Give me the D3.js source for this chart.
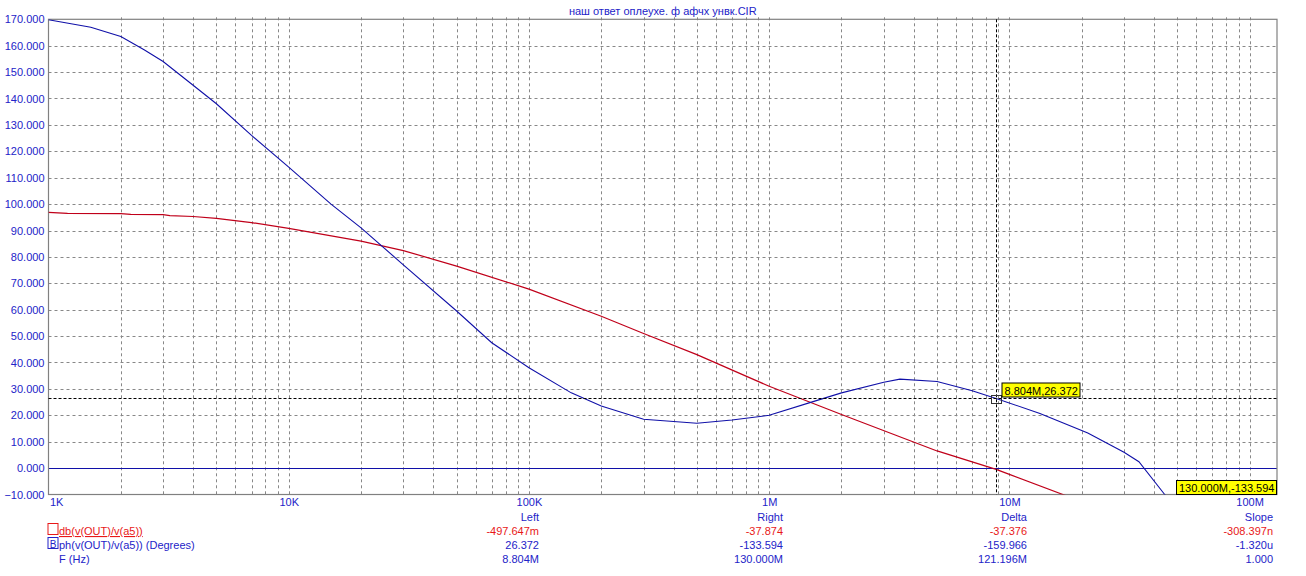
<!DOCTYPE html>
<html><head><meta charset="utf-8">
<script src="https://cdn.jsdelivr.net/npm/d3@7"></script>
<style>
html,body{margin:0;padding:0;background:#fff;}
svg{display:block;font-family:"Liberation Sans",Arial,sans-serif;font-size:11px;}
</style></head>
<body><svg id="c" width="1306" height="576"></svg>
<script>
// ---- data ----
const title = "наш ответ оплеухе. ф афчх унвк.CIR";
const magFreq = [1e3,1.2e3,2e3,2.2e3,3e3,3.2e3,4e3,5e3,7e3,1e4,2e4,3e4,5e4,1e5,2e5,3e5,5e5,1e6,2e6,5e6,8.804e6,1e7,1.67e7,2e7];
const magDb   = [96.9,96.5,96.4,96.1,96.0,95.6,95.3,94.6,93.0,90.8,86.0,82.4,76.5,67.8,57.5,51.0,43.0,31.0,20.3,6.5,-0.5,-2.4,-10,-12.8];
const phFreq  = [1e3,1.5e3,2e3,2.5e3,3e3,4e3,5e3,7e3,1e4,1.5e4,2e4,3e4,5e4,7e4,1e5,1.5e5,2e5,3e5,5e5,7e5,1e6,1.5e6,2e6,3e6,3.5e6,5e6,7e6,8.804e6,1.34e7,2.12e7,3.0e7,3.46e7,4.43e7,5e7];
const phDeg   = [169.8,167.0,163.5,158.5,154.0,145.0,138.0,126.0,114.0,100.0,91.0,77.0,59.5,47.5,38.0,28.5,23.5,18.5,17.0,18.2,20.0,25.0,28.5,32.5,33.7,32.8,29.3,26.372,20.7,13.3,6.0,2.4,-10,-15];
const yTicks  = [170,160,150,140,130,120,110,100,90,80,70,60,50,40,30,20,10,0,-10];
const xTickVals = [1e3,1e4,1e5,1e6,1e7,1e8];
const xTickLabels = ["1K","10K","100K","1M","10M","100M"];
const cursorA = {f:8.804e6, v:26.372, label:"8.804M,26.372"};
const cursorB = {f:130e6, v:-133.594, label:"130.000M,-133.594"};
const tableHeads = ["Left","Right","Delta","Slope"];
const tableMag   = ["-497.647m","-37.874","-37.376","-308.397n"];
const tablePh    = ["26.372","-133.594","-159.966","-1.320u"];
const tableF     = ["8.804M","130.000M","121.196M","1.000"];
const legendNames = ["db(v(OUT)/v(a5))","ph(v(OUT)/v(a5)) (Degrees)","F (Hz)"];

// ---- layout ----
const L=48.5, R=1277, T=19.3, B=494.5;
const blueTxt="#2323c8", redTxt="#e81818", redLine="#c0001a", blueLine="#1010a8", grid="#888";
const svg=d3.select("#c");
const x=d3.scaleLog().domain([1e3,1.3e8]).range([L,R]);
const y=d3.scaleLinear().domain([-10,170]).range([B,T]);

svg.append("defs").append("clipPath").attr("id","clip")
  .append("rect").attr("x",L).attr("y",T).attr("width",R-L).attr("height",B-T);

// title
svg.append("text").attr("x",(L+R)/2).attr("y",15).attr("text-anchor","middle")
  .attr("fill",blueTxt).text(title);

// vertical grid
const vg=[];
for(let d=1e3; d<1.3e8; d*=10){ for(let k=1;k<=9;k++){ const f=d*k; if(f>1e3 && f<1.3e8) vg.push(f);} }
svg.append("g").selectAll("line").data(vg).join("line")
  .attr("x1",d=>Math.round(x(d))+0.5).attr("x2",d=>Math.round(x(d))+0.5)
  .attr("y1",T-2).attr("y2",B).attr("stroke",grid).attr("stroke-dasharray","3,3").attr("stroke-width",1);
// horizontal grid
svg.append("g").selectAll("line").data(yTicks.filter(v=>v<170&&v>-10&&v!==0)).join("line")
  .attr("x1",L).attr("x2",R).attr("y1",d=>Math.round(y(d))+0.5).attr("y2",d=>Math.round(y(d))+0.5)
  .attr("stroke",grid).attr("stroke-dasharray","3,3");
// zero line
svg.append("line").attr("x1",L).attr("x2",R).attr("y1",Math.round(y(0))+0.5).attr("y2",Math.round(y(0))+0.5)
  .attr("stroke",blueLine).attr("stroke-width",1.2);
// frame
svg.append("rect").attr("x",L).attr("y",T).attr("width",R-L).attr("height",B-T)
  .attr("fill","none").attr("stroke","#808080").attr("stroke-width",1.2);

// y axis labels
const yAxis=d3.axisLeft(y).tickValues(yTicks).tickFormat(d3.format(".3f")).tickSize(0).tickPadding(4);
const ga=svg.append("g").attr("transform",`translate(${L},0)`).call(yAxis);
ga.select(".domain").remove();
ga.selectAll("text").attr("fill",blueTxt).attr("font-size","11px").attr("font-family","Liberation Sans,Arial,sans-serif");

// x axis labels
const xAxis=d3.axisBottom(x).tickValues(xTickVals).tickFormat((d,i)=>xTickLabels[i]).tickSize(0).tickPadding(4);
const gx=svg.append("g").attr("transform",`translate(0,${B})`).call(xAxis);
gx.select(".domain").remove();
gx.selectAll("text").attr("fill",blueTxt).attr("font-size","11px").attr("font-family","Liberation Sans,Arial,sans-serif")
  .attr("text-anchor",(d,i)=>i===0?"start":"middle").attr("dx",(d,i)=>i===0?1:0);

// curves
const line=d3.line().x(d=>x(d[0])).y(d=>y(d[1]));
const cg=svg.append("g").attr("clip-path","url(#clip)");
cg.append("path").datum(magFreq.map((f,i)=>[f,magDb[i]])).attr("d",line)
  .attr("fill","none").attr("stroke",redLine).attr("stroke-width",1.2);
cg.append("path").datum(phFreq.map((f,i)=>[f,phDeg[i]])).attr("d",line)
  .attr("fill","none").attr("stroke",blueLine).attr("stroke-width",1.1);

// cursor
const cx=Math.round(x(cursorA.f))+0.5, cy=Math.round(y(cursorA.v))+0.5;
svg.append("line").attr("x1",cx).attr("x2",cx).attr("y1",T).attr("y2",B)
  .attr("stroke","#000").attr("stroke-dasharray","3,2");
svg.append("line").attr("x1",L).attr("x2",R).attr("y1",cy).attr("y2",cy)
  .attr("stroke","#000").attr("stroke-dasharray","3,2");
svg.append("rect").attr("x",cx-5).attr("y",cy-3).attr("width",10).attr("height",8)
  .attr("fill","none").attr("stroke","#333");
function measure(txt){
  const t=svg.append("text").attr("font-size","11px").text(txt);
  const w=t.node().getComputedTextLength(); t.remove(); return w;
}
function tag(x0,y0,txt){
  const w=measure(txt);
  const g=svg.append("g");
  g.append("rect").attr("x",x0+0.5).attr("y",y0+0.5).attr("width",Math.round(w+5)).attr("height",14)
    .attr("fill","#ffff00").attr("stroke","#000");
  g.append("text").attr("x",x0+3).attr("y",y0+12).attr("fill","#000").attr("font-size","11px").text(txt);
}
tag(cx+5,cy-16,cursorA.label);
// clamped label for cursor B (off-scale) at bottom-right
tag(Math.round(R-measure(cursorB.label)-6),Math.round(B-15),cursorB.label);

// table
const colX=[539,783,1027,1273];
const rowsY=[521,535,549,563];
tableHeads.forEach((h,i)=>{
  svg.append("text").attr("x",colX[i]).attr("y",rowsY[0]).attr("text-anchor","end").attr("fill",blueTxt).text(h);
  svg.append("text").attr("x",colX[i]).attr("y",rowsY[1]).attr("text-anchor","end").attr("fill",redTxt).text(tableMag[i]);
  svg.append("text").attr("x",colX[i]).attr("y",rowsY[2]).attr("text-anchor","end").attr("fill",blueTxt).text(tablePh[i]);
  svg.append("text").attr("x",colX[i]).attr("y",rowsY[3]).attr("text-anchor","end").attr("fill",blueTxt).text(tableF[i]);
});

// legend
svg.append("rect").attr("x",48).attr("y",523.5).attr("width",10).attr("height",11).attr("fill","none").attr("stroke",redTxt);
svg.append("text").attr("x",59).attr("y",rowsY[1]).attr("fill",redTxt).attr("text-decoration","underline").text(legendNames[0]);
svg.append("rect").attr("x",48).attr("y",537.5).attr("width",10).attr("height",11).attr("fill","none").attr("stroke",blueTxt);
svg.append("text").attr("x",53).attr("y",rowsY[2]-1).attr("text-anchor","middle").attr("fill",blueTxt).attr("font-size","10px").text("B");
svg.append("text").attr("x",59).attr("y",rowsY[2]).attr("fill",blueTxt).text(legendNames[1]);
svg.append("text").attr("x",59).attr("y",rowsY[3]).attr("fill",blueTxt).text(legendNames[2]);
</script></body></html>
